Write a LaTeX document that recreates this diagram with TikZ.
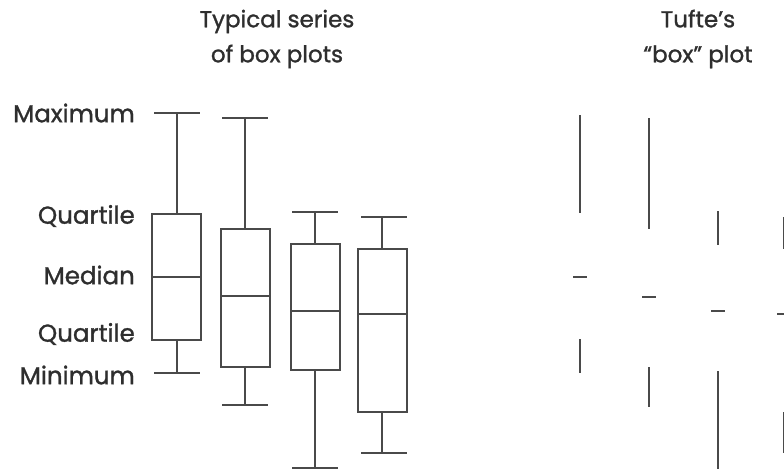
\documentclass[tikz,border=0pt]{standalone}
\usepackage{fontspec}
\setmainfont{Poppins}[FakeBold=1.2]
\definecolor{inkgray}{HTML}{4A4A4A}
\definecolor{textgray}{HTML}{2E2E2E}
\tikzset{
  plotline/.style = {draw=inkgray, line width=1.6pt},
  sidelabel/.style = {anchor=east, inner sep=0pt, text=textgray, font=\fontsize{24.5}{28}\selectfont},
  headlabel/.style = {align=center, inner sep=0pt, text=textgray, font=\fontsize{23}{35}\selectfont}
}

\begin{document}
\begin{tikzpicture}[x=1pt, y=-1pt]
\useasboundingbox (0,0) rectangle (784,469);
% titles
\node[headlabel] (typtitle) at (277,39) {Typical series\\of box plots};
\node[headlabel] (tuftetitle) at (698,39) {Tufte’s\\“box” plot};
% labels on the left
\node[sidelabel] (maxlbl) at (135,113) {Maximum};
\node[sidelabel] (uqlbl) at (135,216) {Quartile};
\node[sidelabel] (medlbl) at (135,275) {Median};
\node[sidelabel] (lqlbl) at (135,334) {Quartile};
\node[sidelabel] (minlbl) at (135,375) {Minimum};
% box 1
\draw[plotline] (154,113) -- (200,113);
\draw[plotline] (177,113) -- (177,214);
\draw[plotline] (152,214) rectangle (201,340);
\draw[plotline] (152,277) -- (201,277);
\draw[plotline] (177,340) -- (177,373);
\draw[plotline] (154,373) -- (200,373);
% box 2
\draw[plotline] (222,118) -- (268,118);
\draw[plotline] (245,118) -- (245,229);
\draw[plotline] (221,229) rectangle (270,367);
\draw[plotline] (221,296) -- (270,296);
\draw[plotline] (245,367) -- (245,405);
\draw[plotline] (222,405) -- (268,405);
% box 3
\draw[plotline] (292,212) -- (338,212);
\draw[plotline] (315,212) -- (315,244);
\draw[plotline] (291,244) rectangle (340,370);
\draw[plotline] (291,311) -- (340,311);
\draw[plotline] (315,370) -- (315,468);
\draw[plotline] (292,468) -- (338,468);
% box 4
\draw[plotline] (361,217) -- (407,217);
\draw[plotline] (382,217) -- (382,249);
\draw[plotline] (358,249) rectangle (407,412);
\draw[plotline] (358,314) -- (407,314);
\draw[plotline] (382,412) -- (382,453);
\draw[plotline] (361,453) -- (407,453);
% tufte 1
\draw[plotline] (580,115) -- (580,213);
\draw[plotline] (573,277) -- (587,277);
\draw[plotline] (580,339) -- (580,373);
% tufte 2
\draw[plotline] (649,118) -- (649,229);
\draw[plotline] (642,297) -- (656,297);
\draw[plotline] (649,367) -- (649,407);
% tufte 3
\draw[plotline] (718,211) -- (718,245);
\draw[plotline] (711,311) -- (725,311);
\draw[plotline] (718,371) -- (718,469);
% tufte 4
\draw[plotline] (783.5,217) -- (783.5,249);
\draw[plotline] (777,314) -- (791,314);
\draw[plotline] (783.5,412) -- (783.5,453);
\end{tikzpicture}
\end{document}
